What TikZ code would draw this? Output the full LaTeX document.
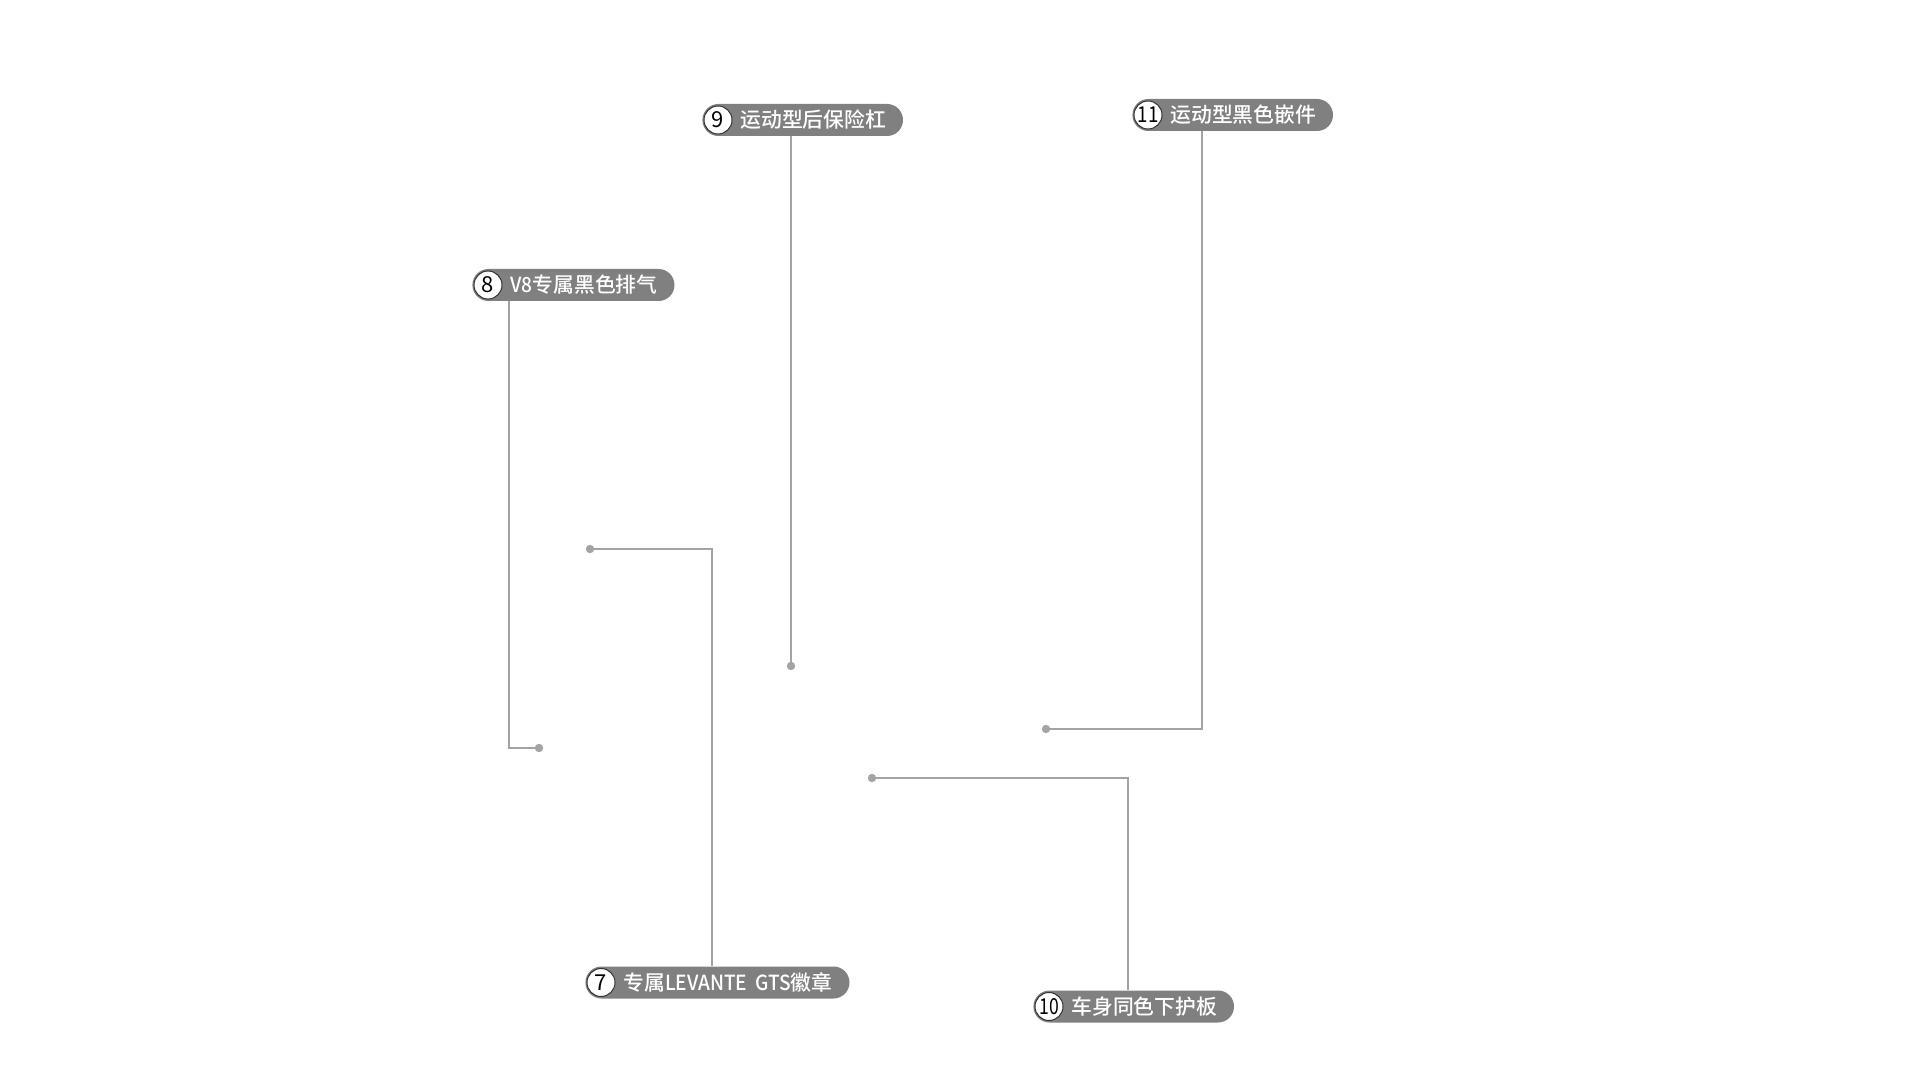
\documentclass[tikz,border=0pt]{standalone}
\usepackage{fontspec}
\setmainfont{Noto Sans CJK SC}
\newfontfamily\cjk{Noto Sans CJK SC Medium}
\newfontfamily\numfont{Noto Sans CJK SC}
\newcommand\lat[1]{\scalebox{0.92}[1]{#1}}
\definecolor{pillgray}{HTML}{808080}
\definecolor{linegray}{HTML}{A3A3A3}
\begin{document}
\begin{tikzpicture}[x=0.5pt,y=-0.5pt,
  pill/.style={fill=pillgray, rounded corners=8pt, minimum height=16pt, inner ysep=0pt,
    inner xsep=8.5pt, text=white, anchor=west, font=\cjk\fontsize{10.4pt}{12pt}\selectfont},
  numc/.style={circle, fill=white, draw=black!80, line width=0.5pt, minimum size=14pt,
    inner sep=0pt, text=black, font=\numfont\fontsize{11pt}{12pt}\selectfont},
  dot/.style={circle, fill=linegray, minimum size=4.2pt, inner sep=0pt},
  lead/.style={draw=linegray, line width=0.9pt}]
\useasboundingbox[fill=white] (0,0) rectangle (1920,1080);

% pills
\node[pill] (p9)  at (702,120)    {\hspace{10.5pt}运动型后保险杠};
\node[pill] (p11) at (1132,115)   {\hspace{10.5pt}运动型黑色嵌件};
\node[pill] (p8)  at (472,285)    {\hspace{10.5pt}\lat{V8}专属黑色排气};
\node[pill] (p7)  at (585,982.5)  {\hspace{10.5pt}专属\lat{LEVANTE}\hspace{4pt}\lat{GTS}徽章};
\node[pill] (p10) at (1033,1006.5){\hspace{10.5pt}车身同色下护板};

% number circles
\node[numc] (n9)  at ([xshift=8pt]p9.west)  {9};
\node[numc] (n11) at ([xshift=8pt]p11.west) {\scalebox{0.85}[1]{11}};
\node[numc] (n8)  at ([xshift=8pt]p8.west)  {8};
\node[numc] (n7)  at ([xshift=8pt]p7.west)  {7};
\node[numc] (n10) at ([xshift=8pt]p10.west) {\scalebox{0.8}[1]{10}};

% dots
\node[dot] (d9)  at (791,666) {};
\node[dot] (d11) at (1046,729) {};
\node[dot] (d8)  at (539,748) {};
\node[dot] (d7)  at (590,549) {};
\node[dot] (d10) at (872,778) {};

% corners
\coordinate (k9)  at (791,666);
\coordinate (k11) at (1202,729);
\coordinate (k8)  at (509,748);
\coordinate (k7)  at (712,549);
\coordinate (k10) at (1128,778);

% leaders
\draw[lead] (d9.center) -- (k9 |- p9.south);
\draw[lead] (d11.center) -- (k11) -- (k11 |- p11.south);
\draw[lead] (d8.center) -- (k8) -- (k8 |- p8.south);
\draw[lead] (d7.center) -- (k7) -- (k7 |- p7.north);
\draw[lead] (d10.center) -- (k10) -- (k10 |- p10.north);
\end{tikzpicture}
\end{document}
